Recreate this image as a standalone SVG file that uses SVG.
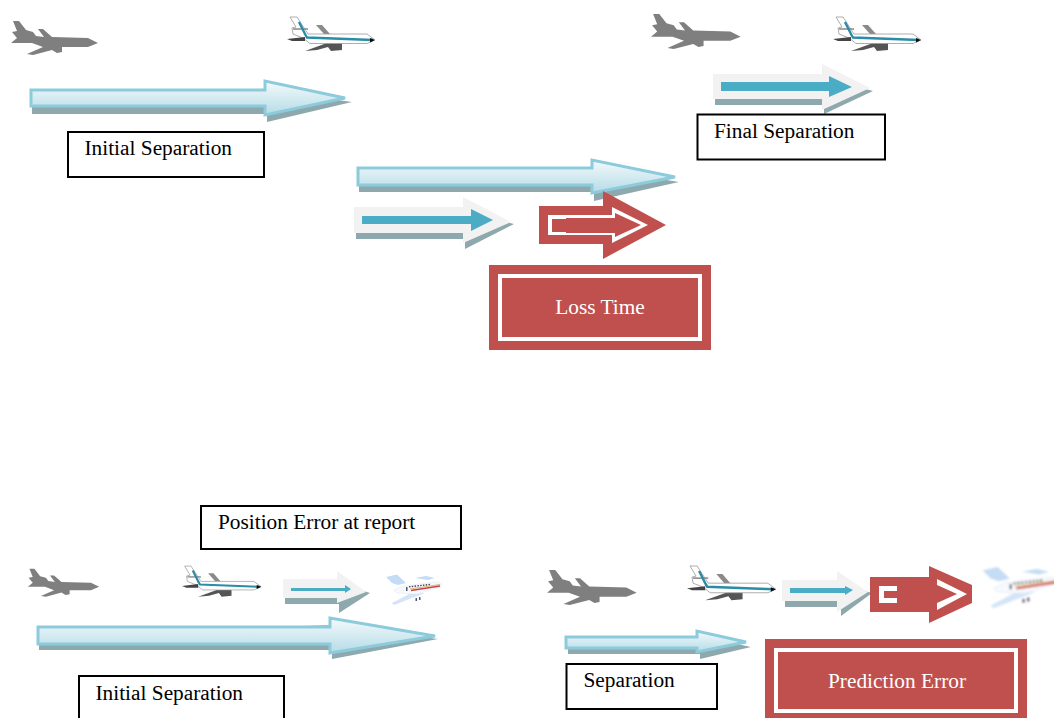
<svg xmlns="http://www.w3.org/2000/svg" width="1054" height="718" viewBox="0 0 1054 718">
<style>
text{font-family:"Liberation Serif","Times New Roman",serif;font-size:21.33px;fill:#000}
.box{fill:#fff;stroke:#000;stroke-width:2}
.sh{fill:#8ea9ae}
.bl{fill:url(#bg);stroke:#8ccbdb;stroke-width:3}
.lt{fill:#f2f2f2}
.te{fill:#4bacc6}
.rd{fill:#c0504d}
.wh{fill:#fff}
.wl{fill:none;stroke:#fff;stroke-width:4}
.rt{fill:#fff;font-size:21.33px;text-anchor:middle}
</style>
<defs>
<linearGradient id="bg" x1="0" y1="0" x2="0" y2="1">
<stop offset="0" stop-color="#f4fafc"/><stop offset="1" stop-color="#b5dbe6"/>
</linearGradient>
<filter id="soft" x="-5%" y="-5%" width="110%" height="110%"><feGaussianBlur stdDeviation="0.6"/></filter>
<g id="gray-plane" filter="url(#soft)">
<path fill="#7f7f7f" d="M13,21 L19,21 L26,30 L33,32 L36,36 L44,37 L38,29 L43,29 L52,37 L88,38 L98,43 L88,47 L62,47 L62,52 L57,53 L52,50 L33,55 L27,54 L43,47 L32,43 L11,43 L17,38 L12,32 L17,31Z"/>
</g>
<g id="color-plane" filter="url(#soft)">
<path fill="#8a8a8a" d="M316,25 L322,25 L330,34 L324,34Z"/>
<path fill="#555" d="M305,51 L327,43 L342,43 L342,50 L331,51 L328,47 L317,50Z"/>
<path fill="#fff" stroke="#999" stroke-width="0.8" d="M290,17 L297,17 L308,34 L367,34 L375,40 L367,43.500 L310,43.500 L303,38 L293,34 L292,28 L296,27Z"/>
<path fill="#444" d="M287,39 L305,37 L305,41 L292,41Z"/>
<path fill="none" stroke="#888" stroke-width="1.500" d="M293,29 H308"/>
<path fill="none" stroke="#2a8ca6" stroke-width="2.400" d="M299,22 L305,34 L307,37.500 L373,40"/>
<path fill="#111" d="M370,38 L375,40 L370,42.500Z"/>
</g>
<g id="jet" filter="url(#soft)">
<path fill="#c4dcf5" d="M2,4 L13,1.500 L22,10 L14,12 L8,10Z"/>
<path fill="#c4dcf5" d="M31,5 L42,3 L51,5 L44,7Z"/>
<path fill="#d3e4f8" d="M25,21 L41,20 L10,32 L8,30Z"/>
<path fill="#f6fafe" stroke="#dbe6f2" stroke-width="0.5" d="M10,17 L20,13 L44,10 L54,9 L58,11 L56,14 L33,21 L13,20Z"/>
<path fill="none" stroke="#e0a040" stroke-width="0.800" d="M26,16 L56,11.500"/>
<path fill="none" stroke="#c9404a" stroke-width="1.400" d="M27,17.500 L56,13"/>
<path fill="none" stroke="#445" stroke-width="1.400" stroke-dasharray="1.500 1.300" d="M25,13.800 L46,11.500"/>
<path fill="#556" d="M31.500,25 h1.500 v3 h-1.500z M35,24 h1.500 v3 h-1.500z M22,14 h1.500 v4 h-1.500z"/>
</g>
</defs>

<g id="connectors">
<g id="arrow-initial-top">
<polygon class="sh" points="32,97 32,114 267,114 267,122 352,102 267,90"/>
<polygon class="bl" points="31,90 265,90 265,81 345,98 265,115 265,106 31,106"/>
</g>
<g id="arrow-middle">
<polygon class="sh" points="359,175 359,192 594,192 594,201 679,182 594,168"/>
<polygon class="bl" points="358,168 592,168 592,160 675,177 592,193 592,185 358,185"/>
</g>
<g id="arrow-final">
<polygon class="sh" points="715,90 715,105 824,105 824,114 873,91 850,85 824,95"/>
<polygon class="lt" points="713,74 822,74 822,64 870,88 822,110 822,99 713,99"/>
<polygon class="te" points="721,82 829,82 829,76 852,87 829,97 829,91 721,91"/>
</g>
<g id="arrow-gray-mid">
<polygon class="sh" points="356,225 356,239 465,239 465,249 514,224 490,218 465,230"/>
<polygon class="lt" points="354,207 463,207 463,197 511,222 463,243 463,233 354,233"/>
<polygon class="te" points="362,216 471,216 471,209 493,220 471,231 471,224 362,224"/>
</g>
<g id="arrow-red-loss">
<polygon class="rd" points="539,206 603,206 603,191 666,225 603,259 603,244 539,244"/>
<polygon class="wh" points="548,215 612,215 612,207 648,225 612,243 612,235 548,235"/>
<polygon class="rd" points="552,219 566,219 566,218 615,218 615,213 641,225 615,237 615,233 566,233 566,232 552,232"/>
</g>
<g id="arrow-initial-bottom">
<polygon class="sh" points="39,635 39,650 332,650 332,659 438,639 332,625"/>
<polygon class="bl" points="38,627 330,627 330,618 435,636 330,653 330,644 38,644"/>
</g>
<g id="arrow-gray-b1">
<polygon class="sh" points="285,592 285,604 339,604 339,613 370,593 355,588 339,595"/>
<polygon class="lt" points="283,579 337,579 337,571 366,592 337,603 337,598 283,598"/>
<polygon class="te" points="291,588 345,588 345,585 351,589 345,593 345,591 291,591"/>
</g>
<g id="arrow-separation">
<polygon class="sh" points="568,642 568,654 700,654 700,659 751,647 700,636"/>
<polygon class="bl" points="566,637 697,637 697,631 746,642 697,652 697,648 566,648"/>
</g>
<g id="arrow-gray-b2">
<polygon class="sh" points="785,594 785,607 841,607 841,616 872,593 855,588 841,598"/>
<polygon class="lt" points="782,580 837,580 837,571 868,592 837,612 837,601 782,601"/>
<polygon class="te" points="790,588 845,588 845,586 853,590 845,595 845,593 790,593"/>
</g>
<g id="arrow-red-prediction">
<polygon class="rd" points="870,577 929,577 929,566 972,585 972,603 929,623 929,612 870,612"/>
<polygon class="wh" points="879,586 897,586 897,591 884,591 884,598 897,598 897,603 879,603"/>
<polygon class="wh" points="937,579 967,594 937,610 937,603 957,594 937,585"/>
</g>
</g>

<g id="plane-gray-1"><use href="#gray-plane"/></g>
<g id="plane-color-1"><use href="#color-plane"/></g>
<g id="plane-gray-2"><use href="#gray-plane" transform="translate(650,13) scale(1.03) translate(-10,-20)"/></g>
<g id="plane-color-2"><use href="#color-plane" transform="translate(546,0)"/></g>
<g id="plane-gray-3"><use href="#gray-plane" transform="translate(27,568) scale(.82) translate(-10,-20)"/></g>
<g id="plane-color-3"><use href="#color-plane" transform="translate(182,567) scale(.9) translate(-287,-18)"/></g>
<g id="jet-1"><use href="#jet" transform="translate(384,573)"/></g>
<g id="plane-gray-4"><use href="#gray-plane" transform="translate(546,569) scale(1.03) translate(-10,-20)"/></g>
<g id="plane-color-4"><use href="#color-plane" transform="translate(687,567) scale(1.01) translate(-287,-18)"/></g>
<g id="jet-2"><use href="#jet" transform="translate(980,565) scale(1.35)"/></g>

<g id="label-initial-top"><rect class="box" x="68" y="132" width="196" height="45"/><text x="84.500" y="155">Initial Separation</text></g>
<g id="label-final"><rect class="box" x="697.500" y="114.500" width="187.500" height="45"/><text x="714" y="138">Final Separation</text></g>
<g id="node-loss-time"><rect class="rd" x="489" y="265" width="222" height="85"/><rect class="wl" x="500" y="276" width="200" height="63"/><text class="rt" x="600" y="314">Loss Time</text></g>
<g id="label-position-error"><rect class="box" x="201" y="506" width="260" height="43"/><text x="218" y="529">Position Error at report</text></g>
<g id="label-initial-bottom"><rect class="box" x="79" y="676" width="205" height="60"/><text x="95.500" y="700">Initial Separation</text></g>
<g id="label-separation"><rect class="box" x="566.500" y="664" width="150.500" height="45"/><text x="583.500" y="687">Separation</text></g>
<g id="node-prediction-error"><rect class="rd" x="765" y="639" width="262" height="79"/><rect class="wl" x="776" y="650" width="240" height="61"/><text class="rt" x="897" y="688">Prediction Error</text></g>
</svg>
